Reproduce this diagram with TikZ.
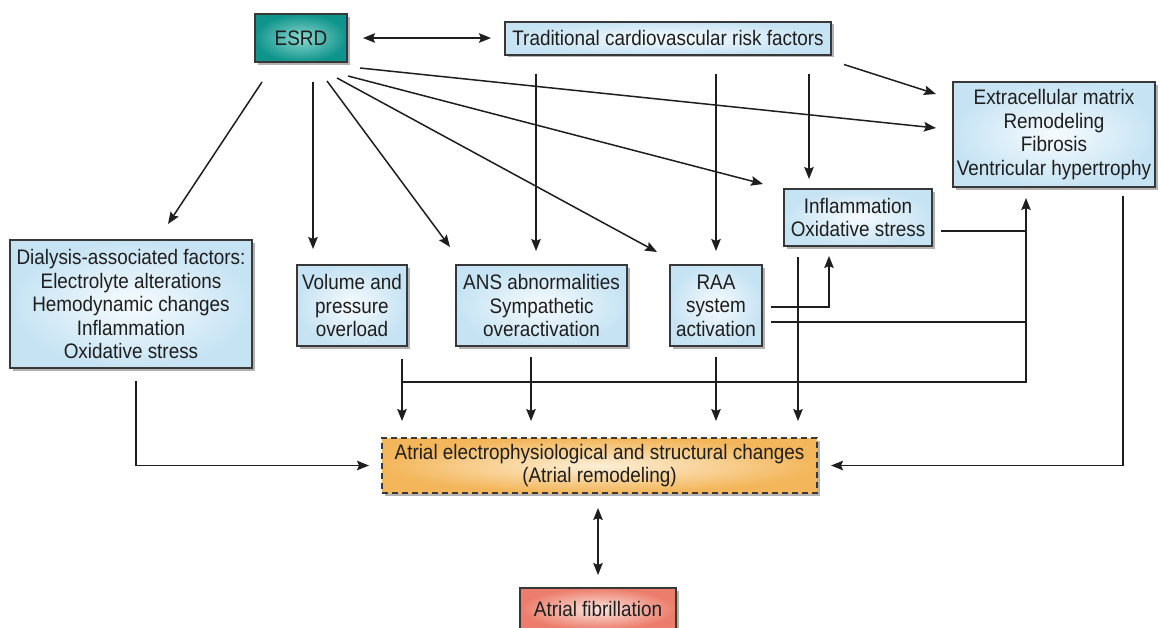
\documentclass[tikz,border=0pt]{standalone}
\usepackage{fontspec}
\setmainfont{Liberation Sans}[FakeStretch=0.9]
\usetikzlibrary{arrows.meta,calc,shadows}
\definecolor{boxblue}{HTML}{C6E3F3}
\definecolor{boxin}{HTML}{F6FBFE}
\definecolor{teal1}{HTML}{0F948B}
\definecolor{teal2}{HTML}{8CD8D0}
\definecolor{org1}{HTML}{F3B65A}
\definecolor{org2}{HTML}{FDEFD6}
\definecolor{red1}{HTML}{EC7C6B}
\definecolor{red2}{HTML}{FCE4DE}
\definecolor{edge}{HTML}{383838}
\definecolor{ink}{HTML}{1E1E1E}
\tikzset{
  base/.style={draw=edge,line width=2pt,align=center,inner sep=0pt,text=ink,
    drop shadow={shadow xshift=2.5pt,shadow yshift=-2.5pt,fill=black,opacity=0.3}},
  bluebox/.style={base,shading=radial,inner color=boxin,outer color=boxblue},
  tealbox/.style={base,shading=radial,inner color=teal2,outer color=teal1},
  orangebox/.style={base,dashed,dash pattern=on 6pt off 4pt,shading=radial,inner color=org2,outer color=org1},
  redbox/.style={base,shading=radial,inner color=red2,outer color=red1},
  tip/.tip={Stealth[length=12pt,width=9.5pt,inset=2pt]},
  wire/.style={draw=ink,line width=1.5pt},
  arr/.style={wire,-tip},
  dbl/.style={wire,tip-tip}
}
\begin{document}
\begin{tikzpicture}[x=1pt,y=-1pt,font=\fontsize{21}{23.5}\selectfont]
\useasboundingbox (0,0) rectangle (1161,627);
\clip (0,0) rectangle (1161,627);
\fill[white] (0,0) rectangle (1161,627);

% nodes
\node[tealbox,minimum width=92pt,minimum height=48pt] (esrd) at (301,38) {ESRD};
\node[bluebox,minimum width=326pt,minimum height=33pt] (trad) at (668,38) {Traditional cardiovascular risk factors};
\node[bluebox,minimum width=202pt,minimum height=105pt] (ecm) at (1054,134.5) {Extracellular matrix\\Remodeling\\Fibrosis\\Ventricular hypertrophy};
\node[bluebox,minimum width=148pt,minimum height=57pt] (infl) at (858,217.5) {Inflammation\\Oxidative stress};
\node[bluebox,minimum width=242pt,minimum height=128pt] (dial) at (131,304) {Dialysis-associated factors:\\Electrolyte alterations\\Hemodynamic changes\\Inflammation\\Oxidative stress};
\node[bluebox,minimum width=110pt,minimum height=81pt] (vol) at (352,305.5) {Volume and\\pressure\\overload};
\node[bluebox,minimum width=171pt,minimum height=81pt] (ans) at (541.5,305.5) {ANS abnormalities\\Sympathetic\\overactivation};
\node[bluebox,minimum width=92pt,minimum height=81pt] (raa) at (716,305.5) {RAA\\system\\activation};
\node[orangebox,minimum width=435pt,minimum height=55pt] (atr) at (599.5,465.5) {Atrial electrophysiological and structural changes\\(Atrial remodeling)};
\node[redbox,minimum width=156pt,minimum height=42pt] (af) at (598,609) {Atrial fibrillation};

% helper coordinate: bus into ECM
\coordinate (bus) at ($(ecm.south)+(-28,10)$);

% top connectors
\draw[dbl] ($(esrd.east)+(15,0)$) -- ($(trad.west)+(-13,0)$);
\draw[arr] ($(esrd.south)+(-39,19)$) -- ($(dial.north)+(37,-15)$);
\draw[arr] ($(esrd.south)+(12,19)$) -- ($(vol.north)+(-39,-15)$);
\draw[arr] ($(esrd.south)+(26,18)$) -- ($(ans.north)+(-91.5,-17)$);
\draw[arr] ($(esrd.south)+(36,15)$) -- ($(raa.north)+(-59,-12)$);
\draw[arr] ($(esrd.south)+(47,13)$) -- ($(infl.north west)+(-20,-4)$);
\draw[arr] ($(esrd.south east)+(12,5)$) -- ($(ecm.west)+(-16,-6.5)$);
\draw[arr] ($(trad.south east)+(12,9)$) -- ($(ecm.north west)+(-16,13)$);
\draw[arr] ($(trad.south)+(-132,18)$) -- ($(ans.north)+(-5.5,-13)$);
\draw[arr] ($(trad.south)+(48,18)$) -- ($(raa.north)+(0,-13)$);
\draw[arr] ($(trad.south)+(141,18)$) -- ($(infl.north)+(-49,-9)$);

% middle connectors
\draw[arr] ($(raa.east)+(8,1.5)$) -| ($(infl.south)+(-29,9)$);
\draw[wire] ($(raa.east)+(8,16.5)$) coordinate (r2) -- (r2 -| bus);
\draw[wire] ($(infl.east)+(8,13.5)$) coordinate (i2) -- (i2 -| bus);
\draw[arr] ($(vol.south)+(50,35)$) -| (bus);

% into atrial remodeling
\draw[arr] ($(vol.south)+(50,12)$) -- ($(atr.north)+(-197.5,-16)$);
\draw[arr] ($(ans.south)+(-10.5,10)$) -- ($(atr.north)+(-68.5,-16)$);
\draw[arr] ($(raa.south)+(0,10)$) -- ($(atr.north)+(116.5,-16)$);
\draw[arr] ($(infl.south)+(-60,10)$) -- ($(atr.north)+(198.5,-16)$);
\draw[arr] ($(dial.south)+(5,12)$) |- ($(atr.west)+(-12,0)$);
\draw[arr] ($(ecm.south)+(69,8)$) |- ($(atr.east)+(13,0)$);
\draw[dbl] ($(atr.south)+(-1.5,14)$) -- ($(af.north)+(0,-12)$);
\end{tikzpicture}
\end{document}
